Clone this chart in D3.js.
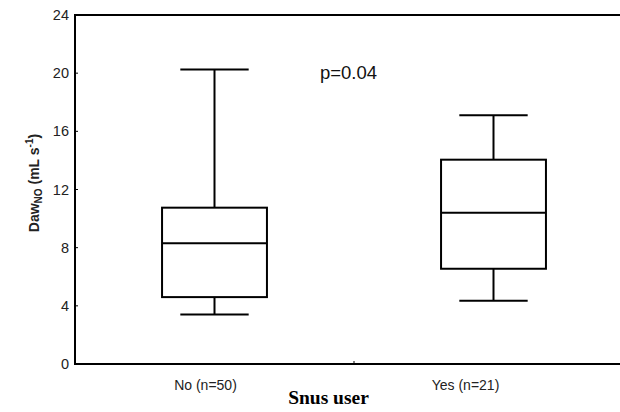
<!DOCTYPE html>
<html>
<head>
<meta charset="utf-8">
<script src="https://cdn.jsdelivr.net/npm/d3@7"></script>
<style>
  body { margin: 0; background: #fff; }
  svg { display: block; }
</style>
</head>
<body>
<svg id="chart"></svg>
<script>
    'use strict';

    var categories = ['No (n=50)', 'Yes (n=21)'];
    var whiskerLow = [3.4, 4.35];
    var quartile1 = [4.6, 6.55];
    var medians = [8.3, 10.4];
    var quartile3 = [10.75, 14.05];
    var whiskerHigh = [20.25, 17.1];
    var yTicks = [0, 4, 8, 12, 16, 20, 24];
    var pLabel = 'p=0.04';

    var width = 620;
    var height = 412;
    var marginLeft = 75;
    var marginTop = 15;
    var plotBottom = 364;

    var boxes = categories.map(function(c, i) {
        return { cat: c, lo: whiskerLow[i], q1: quartile1[i], med: medians[i], q3: quartile3[i], hi: whiskerHigh[i] };
    });

    var svg = d3.select('#chart')
        .attr('width', width)
        .attr('height', height);

    var x = d3.scaleBand()
        .domain(categories)
        .range([marginLeft, 633]);

    var y = d3.scaleLinear()
        .domain([0, 24])
        .range([plotBottom, marginTop]);

    var boxW = x.bandwidth() * 0.376;
    var capW = x.bandwidth() * 0.245;

    // frame: left, bottom, top (right side falls outside the picture)
    svg.append('path')
        .attr('d', 'M' + (width + 2) + ',' + y(24) + 'H' + marginLeft + 'V' + y(0) + 'H' + (width + 2))
        .attr('fill', 'none')
        .attr('stroke', '#000')
        .attr('stroke-width', 2);

    // small inward ticks
    svg.selectAll('.ytick')
        .data(yTicks.slice(1, -1))
        .enter().append('line')
        .attr('x1', marginLeft).attr('x2', marginLeft + 3)
        .attr('y1', function(d) { return y(d); })
        .attr('y2', function(d) { return y(d); })
        .attr('stroke', '#000');

    svg.append('line')
        .attr('x1', x(categories[1])).attr('x2', x(categories[1]))
        .attr('y1', y(0)).attr('y2', y(0) - 3)
        .attr('stroke', '#000');

    svg.selectAll('.ylab')
        .data(yTicks)
        .enter().append('text')
        .attr('x', marginLeft - 6)
        .attr('y', function(d) { return y(d) + 5; })
        .attr('text-anchor', 'end')
        .attr('font-family', 'Liberation Sans, Arial, sans-serif')
        .attr('font-size', 14.5)
        .attr('fill', '#222')
        .text(function(d) { return d; });

    var labelShift = [-9, -28];
    svg.selectAll('.xlab')
        .data(categories)
        .enter().append('text')
        .attr('x', function(d, i) { return x(d) + x.bandwidth() / 2 + labelShift[i]; })
        .attr('y', 390)
        .attr('text-anchor', 'middle')
        .attr('font-family', 'Liberation Sans, Arial, sans-serif')
        .attr('font-size', 14)
        .attr('fill', '#222')
        .text(function(d) { return d; });

    var g = svg.selectAll('.box')
        .data(boxes)
        .enter().append('g')
        .attr('transform', function(d) { return 'translate(' + (x(d.cat) + x.bandwidth() / 2) + ',0)'; })
        .attr('stroke', '#000')
        .attr('stroke-width', 2)
        .attr('fill', 'none');

    g.append('line')
        .attr('x1', 0).attr('x2', 0)
        .attr('y1', function(d) { return y(d.hi); })
        .attr('y2', function(d) { return y(d.q3); });
    g.append('line')
        .attr('x1', 0).attr('x2', 0)
        .attr('y1', function(d) { return y(d.q1); })
        .attr('y2', function(d) { return y(d.lo); });
    g.append('line')
        .attr('x1', -capW / 2).attr('x2', capW / 2)
        .attr('y1', function(d) { return y(d.hi); })
        .attr('y2', function(d) { return y(d.hi); });
    g.append('line')
        .attr('x1', -capW / 2).attr('x2', capW / 2)
        .attr('y1', function(d) { return y(d.lo); })
        .attr('y2', function(d) { return y(d.lo); });
    g.append('rect')
        .attr('x', -boxW / 2)
        .attr('width', boxW)
        .attr('y', function(d) { return y(d.q3); })
        .attr('height', function(d) { return y(d.q1) - y(d.q3); });
    g.append('line')
        .attr('x1', -boxW / 2).attr('x2', boxW / 2)
        .attr('y1', function(d) { return y(d.med); })
        .attr('y2', function(d) { return y(d.med); });

    svg.append('text')
        .attr('x', 348.5)
        .attr('y', y(20) + 6)
        .attr('text-anchor', 'middle')
        .attr('font-family', 'Liberation Sans, Arial, sans-serif')
        .attr('font-size', 18.5)
        .attr('fill', '#111')
        .text(pLabel);

    svg.append('text')
        .attr('x', 328.5)
        .attr('y', 404)
        .attr('text-anchor', 'middle')
        .attr('font-family', 'Liberation Serif, Times New Roman, serif')
        .attr('font-weight', 'bold')
        .attr('font-size', 19.5)
        .text('Snus user');

    var yl = svg.append('text')
        .attr('transform', 'translate(39,' + 183 + ') rotate(-90)')
        .attr('text-anchor', 'middle')
        .attr('font-family', 'Liberation Sans, Arial, sans-serif')
        .attr('font-weight', 'bold')
        .attr('font-size', 14)
        .attr('fill', '#222');
    yl.append('tspan').text('Daw');
    yl.append('tspan').attr('font-size', 10).attr('dy', 3).text('NO');
    yl.append('tspan').attr('dy', -3).text(' (mL s');
    yl.append('tspan').attr('font-size', 10).attr('dy', -6).text('-1');
    yl.append('tspan').attr('dy', 6).text(')');
</script>
</body>
</html>
